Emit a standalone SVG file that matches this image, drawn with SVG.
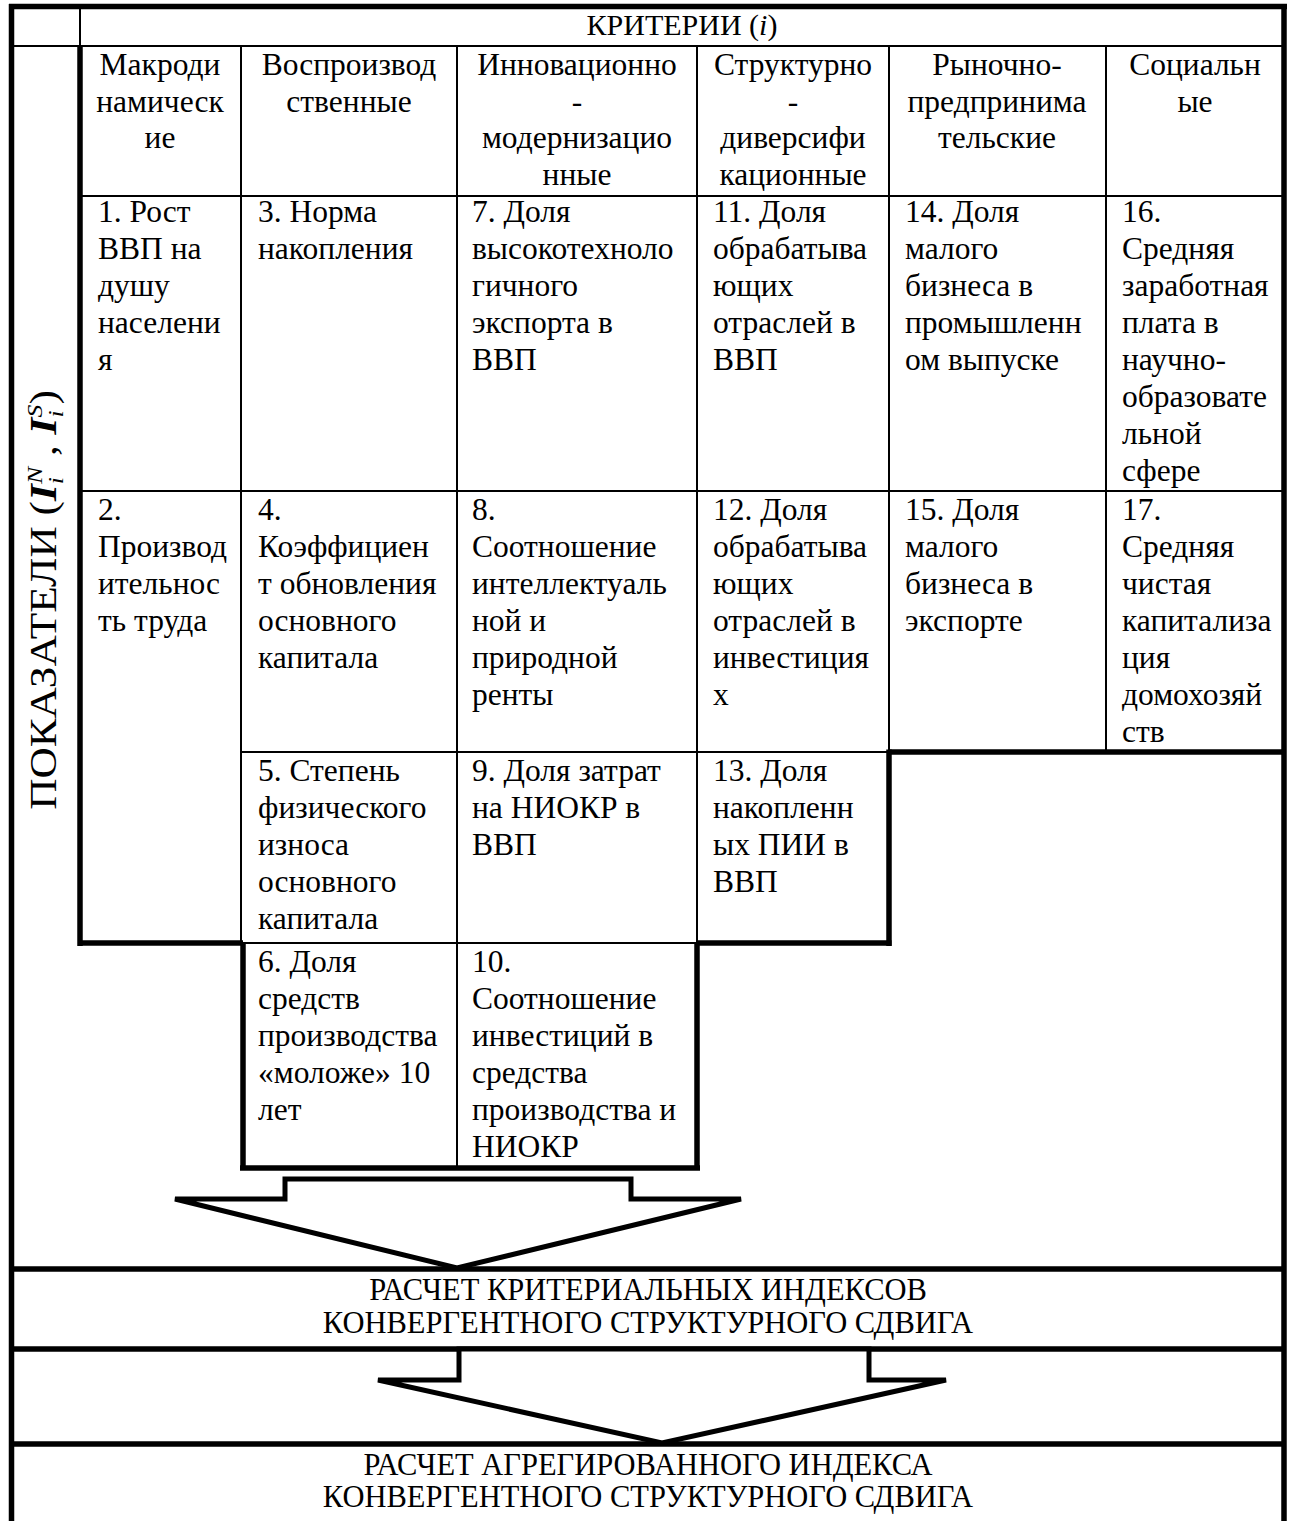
<svg xmlns="http://www.w3.org/2000/svg" width="1294" height="1521" viewBox="0 0 1294 1521">
<style>
text{font-family:"Liberation Serif","Times New Roman",serif;fill:#000}
.h{font-size:31.5px;text-anchor:middle}
.c{font-size:31.5px}
.b{font-size:30.5px;text-anchor:middle}
.thin{stroke:#000;stroke-width:2;fill:none}
.thick{stroke:#000;stroke-width:5.5;fill:none}
.arrow{stroke:#000;stroke-width:5;fill:#fff;stroke-linejoin:miter}
.bi{font-style:italic;font-weight:bold}
.sb{font-style:italic;font-size:22px}
</style>
<rect width="1294" height="1521" fill="#fff"/>

<g id="grid">
<line class="thick" x1="9" y1="6.5" x2="1287" y2="6.5"/>
<line class="thick" x1="11.5" y1="4" x2="11.5" y2="1521"/>
<line class="thick" x1="1284" y1="4" x2="1284" y2="1521"/>
<line class="thin" x1="11" y1="46" x2="1284" y2="46"/>
<line class="thin" x1="80" y1="6" x2="80" y2="46"/>
<line class="thick" x1="80" y1="45" x2="80" y2="946"/>
<line class="thin" x1="80" y1="196" x2="1284" y2="196"/>
<line class="thin" x1="241" y1="46" x2="241" y2="943"/>
<line class="thin" x1="457" y1="46" x2="457" y2="1168"/>
<line class="thin" x1="697" y1="46" x2="697" y2="943"/>
<line class="thin" x1="889" y1="46" x2="889" y2="752"/>
<line class="thin" x1="1106" y1="46" x2="1106" y2="752"/>
<line class="thin" x1="80" y1="491" x2="1284" y2="491"/>
<line class="thin" x1="241" y1="752" x2="889" y2="752"/>
<line class="thick" x1="889" y1="752" x2="1284" y2="752"/>
<line class="thick" x1="889" y1="749.5" x2="889" y2="946"/>
<line class="thick" x1="80" y1="943" x2="243" y2="943"/>
<line class="thin" x1="241" y1="943" x2="697" y2="943"/>
<line class="thick" x1="697" y1="943" x2="891.5" y2="943"/>
<line class="thick" x1="243" y1="943" x2="243" y2="1170"/>
<line class="thick" x1="697" y1="943" x2="697" y2="1170"/>
<line class="thick" x1="240" y1="1168" x2="700" y2="1168"/>
<line class="thick" x1="11" y1="1269" x2="1284" y2="1269"/>
<line class="thick" x1="11" y1="1349" x2="1284" y2="1349"/>
<line class="thick" x1="11" y1="1444" x2="1284" y2="1444"/>
</g>

<g id="criteria-title">
<text x="682" y="35" font-size="30" text-anchor="middle">КРИТЕРИИ (<tspan font-style="italic">i</tspan>)</text>
</g>

<g id="indicators-label">
<text transform="translate(56,600) rotate(-90) scale(1.17,1)" font-size="37" text-anchor="middle">ПОКАЗАТЕЛИ (<tspan class="bi">I</tspan><tspan class="sb" dy="7">i</tspan><tspan class="sb" dx="-6" dy="-21">N</tspan><tspan dy="14"> , </tspan><tspan class="bi">I</tspan><tspan class="sb" dy="7">i</tspan><tspan class="sb" dx="-6" dy="-21">S</tspan><tspan dy="14">)</tspan></text>
</g>

<g id="h1"><text class="h"><tspan x="160" y="75">Макроди</tspan><tspan x="160" y="111.5">намическ</tspan><tspan x="160" y="148">ие</tspan></text></g>
<g id="h2"><text class="h"><tspan x="349" y="75">Воспроизвод</tspan><tspan x="349" y="111.5">ственные</tspan></text></g>
<g id="h3"><text class="h"><tspan x="577" y="75">Инновационно</tspan><tspan x="577" y="111.5">-</tspan><tspan x="577" y="148">модернизацио</tspan><tspan x="577" y="184.5">нные</tspan></text></g>
<g id="h4"><text class="h"><tspan x="793" y="75">Структурно</tspan><tspan x="793" y="111.5">-</tspan><tspan x="793" y="148">диверсифи</tspan><tspan x="793" y="184.5">кационные</tspan></text></g>
<g id="h5"><text class="h"><tspan x="997" y="75">Рыночно-</tspan><tspan x="997" y="111.5">предпринима</tspan><tspan x="997" y="148">тельские</tspan></text></g>
<g id="h6"><text class="h"><tspan x="1195" y="75">Социальн</tspan><tspan x="1195" y="111.5">ые</tspan></text></g>

<g id="c1"><text class="c"><tspan x="98" y="222">1. Рост</tspan><tspan x="98" y="259">ВВП на</tspan><tspan x="98" y="296">душу</tspan><tspan x="98" y="333">населени</tspan><tspan x="98" y="370">я</tspan></text></g>
<g id="c3"><text class="c"><tspan x="258" y="222">3. Норма</tspan><tspan x="258" y="259">накопления</tspan></text></g>
<g id="c7"><text class="c"><tspan x="472" y="222">7. Доля</tspan><tspan x="472" y="259">высокотехноло</tspan><tspan x="472" y="296">гичного</tspan><tspan x="472" y="333">экспорта в</tspan><tspan x="472" y="370">ВВП</tspan></text></g>
<g id="c11"><text class="c"><tspan x="713" y="222">11. Доля</tspan><tspan x="713" y="259">обрабатыва</tspan><tspan x="713" y="296">ющих</tspan><tspan x="713" y="333">отраслей в</tspan><tspan x="713" y="370">ВВП</tspan></text></g>
<g id="c14"><text class="c"><tspan x="905" y="222">14. Доля</tspan><tspan x="905" y="259">малого</tspan><tspan x="905" y="296">бизнеса в</tspan><tspan x="905" y="333">промышленн</tspan><tspan x="905" y="370">ом выпуске</tspan></text></g>
<g id="c16"><text class="c"><tspan x="1122" y="222">16.</tspan><tspan x="1122" y="259">Средняя</tspan><tspan x="1122" y="296">заработная</tspan><tspan x="1122" y="333">плата в</tspan><tspan x="1122" y="370">научно-</tspan><tspan x="1122" y="407">образовате</tspan><tspan x="1122" y="444">льной</tspan><tspan x="1122" y="481">сфере</tspan></text></g>

<g id="c2"><text class="c"><tspan x="98" y="520">2.</tspan><tspan x="98" y="557">Производ</tspan><tspan x="98" y="594">ительнос</tspan><tspan x="98" y="631">ть труда</tspan></text></g>
<g id="c4"><text class="c"><tspan x="258" y="520">4.</tspan><tspan x="258" y="557">Коэффициен</tspan><tspan x="258" y="594">т обновления</tspan><tspan x="258" y="631">основного</tspan><tspan x="258" y="668">капитала</tspan></text></g>
<g id="c8"><text class="c"><tspan x="472" y="520">8.</tspan><tspan x="472" y="557">Соотношение</tspan><tspan x="472" y="594">интеллектуаль</tspan><tspan x="472" y="631">ной и</tspan><tspan x="472" y="668">природной</tspan><tspan x="472" y="705">ренты</tspan></text></g>
<g id="c12"><text class="c"><tspan x="713" y="520">12. Доля</tspan><tspan x="713" y="557">обрабатыва</tspan><tspan x="713" y="594">ющих</tspan><tspan x="713" y="631">отраслей в</tspan><tspan x="713" y="668">инвестиция</tspan><tspan x="713" y="705">х</tspan></text></g>
<g id="c15"><text class="c"><tspan x="905" y="520">15. Доля</tspan><tspan x="905" y="557">малого</tspan><tspan x="905" y="594">бизнеса в</tspan><tspan x="905" y="631">экспорте</tspan></text></g>
<g id="c17"><text class="c"><tspan x="1122" y="520">17.</tspan><tspan x="1122" y="557">Средняя</tspan><tspan x="1122" y="594">чистая</tspan><tspan x="1122" y="631">капитализа</tspan><tspan x="1122" y="668">ция</tspan><tspan x="1122" y="705">домохозяй</tspan><tspan x="1122" y="742">ств</tspan></text></g>

<g id="c5"><text class="c"><tspan x="258" y="781">5. Степень</tspan><tspan x="258" y="818">физического</tspan><tspan x="258" y="855">износа</tspan><tspan x="258" y="892">основного</tspan><tspan x="258" y="929">капитала</tspan></text></g>
<g id="c9"><text class="c"><tspan x="472" y="781">9. Доля затрат</tspan><tspan x="472" y="818">на НИОКР в</tspan><tspan x="472" y="855">ВВП</tspan></text></g>
<g id="c13"><text class="c"><tspan x="713" y="781">13. Доля</tspan><tspan x="713" y="818">накопленн</tspan><tspan x="713" y="855">ых ПИИ в</tspan><tspan x="713" y="892">ВВП</tspan></text></g>

<g id="c6"><text class="c"><tspan x="258" y="972">6. Доля</tspan><tspan x="258" y="1009">средств</tspan><tspan x="258" y="1046">производства</tspan><tspan x="258" y="1083">«моложе» 10</tspan><tspan x="258" y="1120">лет</tspan></text></g>
<g id="c10"><text class="c"><tspan x="472" y="972">10.</tspan><tspan x="472" y="1009">Соотношение</tspan><tspan x="472" y="1046">инвестиций в</tspan><tspan x="472" y="1083">средства</tspan><tspan x="472" y="1120">производства и</tspan><tspan x="472" y="1157">НИОКР</tspan></text></g>

<g id="criterial-index"><text class="b"><tspan x="648" y="1300">РАСЧЕТ КРИТЕРИАЛЬНЫХ ИНДЕКСОВ</tspan><tspan x="648" y="1333">КОНВЕРГЕНТНОГО СТРУКТУРНОГО СДВИГА</tspan></text></g>
<g id="aggregated-index"><text class="b"><tspan x="648" y="1475">РАСЧЕТ АГРЕГИРОВАННОГО ИНДЕКСА</tspan><tspan x="648" y="1507">КОНВЕРГЕНТНОГО СТРУКТУРНОГО СДВИГА</tspan></text></g>

<g id="connectors">
<polygon class="arrow" points="285,1179 631,1179 631,1199 741,1199 457,1268 175,1199 285,1199"/>
<polygon class="arrow" points="459,1349 869,1349 869,1380 946,1380 662,1443 378,1380 459,1380"/>
</g>
</svg>
